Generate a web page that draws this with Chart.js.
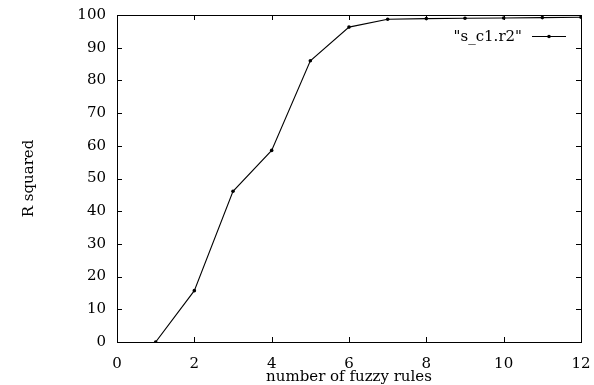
<!DOCTYPE html>
<html lang="en">
<head>
    <meta charset="UTF-8">
    <title>R squared vs fuzzy rules</title>
    <script src="https://cdn.jsdelivr.net/npm/chart.js"></script>
    <style>
        * { margin: 0; padding: 0; }
        body { background: #fff; width: 594px; height: 385px; overflow: hidden; }
        canvas { display: block; }
    </style>
</head>
<body>
    <canvas id="chart" width="594" height="385"></canvas>
    <script>
        const rules = [1, 2, 3, 4, 5, 6, 7, 8, 9, 10, 11, 12];
        const rSquared = [0, 15.7, 46.1, 58.6, 86.0, 96.3, 98.7, 98.9, 99.0, 99.1, 99.2, 99.3];
        const seriesName = '"s_c1.r2"';
        const xTicks = [0, 2, 4, 6, 8, 10, 12];
        const yTicks = [0, 10, 20, 30, 40, 50, 60, 70, 80, 90, 100];

        const FONT = "'DejaVu Serif', serif";

        // gnuplot style frame, inward ticks on all four sides, legend inside
        const framePlugin = {
            id: 'frame',
            afterDatasetsDraw(chart) {
                const { ctx, chartArea: a, scales } = chart;
                const t = 5;
                ctx.save();
                ctx.strokeStyle = '#000';
                ctx.lineWidth = 1;
                ctx.strokeRect(a.left + 0.5, a.top + 0.5, a.right - a.left, a.bottom - a.top);
                ctx.beginPath();
                xTicks.forEach(v => {
                    const px = Math.round(scales.x.getPixelForValue(v)) + 0.5;
                    ctx.moveTo(px, a.bottom); ctx.lineTo(px, a.bottom - t);
                    ctx.moveTo(px, a.top); ctx.lineTo(px, a.top + t);
                });
                yTicks.forEach(v => {
                    const py = Math.round(scales.y.getPixelForValue(v)) + 0.5;
                    ctx.moveTo(a.left, py); ctx.lineTo(a.left + t, py);
                    ctx.moveTo(a.right, py); ctx.lineTo(a.right - t, py);
                });
                ctx.stroke();

                // legend
                const ly = 36;
                ctx.font = '15px ' + FONT;
                ctx.fillStyle = '#000';
                ctx.textAlign = 'right';
                ctx.textBaseline = 'middle';
                ctx.fillText(chart.data.datasets[0].label, 522, ly + 1);
                ctx.beginPath();
                ctx.moveTo(532, ly + 0.5); ctx.lineTo(566, ly + 0.5);
                ctx.stroke();
                ctx.beginPath();
                ctx.arc(549, ly + 0.5, 1.8, 0, Math.PI * 2);
                ctx.fill();
                ctx.restore();
            }
        };

        new Chart(document.getElementById('chart'), {
            type: 'line',
            data: {
                datasets: [{
                    label: seriesName,
                    data: rules.map((r, i) => ({ x: r, y: rSquared[i] })),
                    borderColor: '#000',
                    backgroundColor: '#000',
                    borderWidth: 1.1,
                    pointRadius: 1.8,
                    pointBorderWidth: 0,
                    tension: 0,
                    fill: false
                }]
            },
            options: {
                responsive: false,
                animation: false,
                devicePixelRatio: 1,
                layout: { padding: { top: 15, right: 13, left: 0, bottom: 0 } },
                plugins: { legend: { display: false }, tooltip: { enabled: false } },
                scales: {
                    x: {
                        type: 'linear',
                        min: 0, max: 12,
                        afterBuildTicks: s => { s.ticks = xTicks.map(v => ({ value: v })); },
                        afterFit: s => { s.height = 43; s.paddingLeft = 0; s.paddingRight = 0; },
                        grid: { display: false, drawTicks: false },
                        border: { display: false },
                        ticks: {
                            color: '#000',
                            padding: 13,
                            maxRotation: 0,
                            autoSkip: false,
                            font: { family: FONT, size: 15 }
                        },
                        title: {
                            display: true,
                            text: 'number of fuzzy rules',
                            color: '#000',
                            font: { family: FONT, size: 15, lineHeight: 1.1 },
                            padding: { top: 0, bottom: 0 }
                        }
                    },
                    y: {
                        min: 0, max: 100,
                        afterBuildTicks: s => { s.ticks = yTicks.map(v => ({ value: v })); },
                        afterFit: s => { s.width = 117; s.paddingTop = 0; s.paddingBottom = 0; },
                        grid: { display: false, drawTicks: false },
                        border: { display: false },
                        ticks: {
                            color: '#000',
                            padding: 11,
                            autoSkip: false,
                            font: { family: FONT, size: 15 }
                        },
                        title: {
                            display: true,
                            text: 'R squared',
                            color: '#000',
                            font: { family: FONT, size: 15, lineHeight: 1.2 },
                            padding: { top: 20, bottom: 0 }
                        }
                    }
                }
            },
            plugins: [framePlugin]
        });
    </script>
</body>
</html>
